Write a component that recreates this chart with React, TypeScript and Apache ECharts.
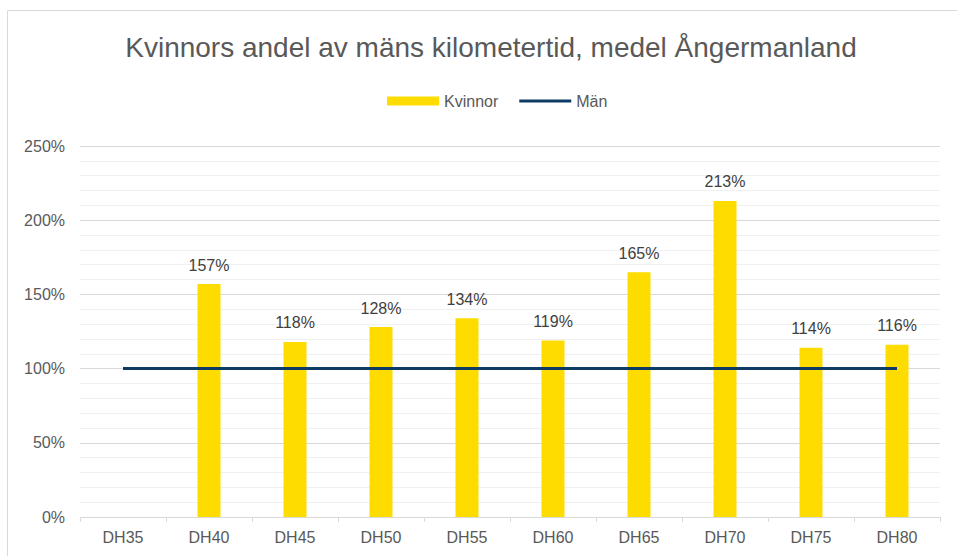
import React, { useEffect, useRef } from "react";
import * as echarts from "echarts";

const categories = ["DH35", "DH40", "DH45", "DH50", "DH55", "DH60", "DH65", "DH70", "DH75", "DH80"];
const kvinnor: (number | null)[] = [null, 157, 118, 128, 134, 119, 165, 213, 114, 116];
const man: number[] = [100, 100, 100, 100, 100, 100, 100, 100, 100, 100];
const yTicks = { min: 0, max: 250, interval: 50 };
const title = "Kvinnors andel av mäns kilometertid, medel Ångermanland";

const FONT = "'Liberation Sans', Arial, sans-serif";
const LINE_COLOR = "#0e3b63";

export default function App() {
  const ref = useRef<HTMLDivElement>(null);
  useEffect(() => {
    if (!ref.current) return;
    const chart = echarts.init(ref.current, undefined, { renderer: "svg" });
    chart.setOption({
      animation: false,
      backgroundColor: "#ffffff",
      textStyle: { fontFamily: FONT },
      graphic: [
        {
          type: "rect",
          shape: { x: 7.5, y: 10.5, width: 1000, height: 700 },
          style: { fill: "none", stroke: "#d9d9d9", lineWidth: 1 },
          silent: true,
          z: -10,
        },
      ],
      title: {
        text: title,
        left: 486,
        textAlign: "center",
        top: 28,
        textStyle: { fontFamily: FONT, fontSize: 28, fontWeight: "normal", color: "#595959" },
      },
      legend: {
        left: 382,
        top: 88,
        itemGap: 21,
        itemWidth: 52,
        itemHeight: 9,
        symbolKeepAspect: true,
        textStyle: { fontFamily: FONT, fontSize: 16, color: "#595959" },
        data: [
          { name: "Kvinnor", icon: "rect" },
          { name: "Män", icon: "path://M0,0 L52,0 L52,3 L0,3 Z", itemStyle: { color: LINE_COLOR } },
        ],
      },
      grid: { left: 80, right: 17, top: 146, bottom: 39, containLabel: false },
      xAxis: {
        type: "category",
        data: categories,
        boundaryGap: true,
        axisLine: { lineStyle: { color: "#d9d9d9", width: 1 } },
        axisTick: { show: true, length: 5, lineStyle: { color: "#d9d9d9" } },
        axisLabel: { fontFamily: FONT, fontSize: 16, color: "#595959", margin: 12 },
      },
      yAxis: {
        type: "value",
        min: yTicks.min,
        max: yTicks.max,
        interval: yTicks.interval,
        axisLine: { show: false },
        axisTick: { show: false },
        axisLabel: { fontFamily: FONT, fontSize: 16, color: "#595959", formatter: "{value}%", margin: 15 },
        splitLine: { show: true, lineStyle: { color: "#d9d9d9", width: 1 } },
        minorTick: { show: false, splitNumber: 5 },
        minorSplitLine: { show: true, lineStyle: { color: "#f0f0f0", width: 1 } },
      },
      series: [
        {
          name: "Kvinnor",
          type: "bar",
          data: kvinnor,
          barWidth: 23,
          itemStyle: { color: "#ffdc00" },
          label: {
            show: true,
            position: "top",
            distance: 11,
            formatter: "{c}%",
            fontFamily: FONT,
            fontSize: 16,
            color: "#404040",
          },
          z: 2,
        },
        {
          name: "Män",
          type: "line",
          data: man,
          symbol: "none",
          lineStyle: { color: LINE_COLOR, width: 3 },
          itemStyle: { color: LINE_COLOR },
          z: 3,
        },
      ],
    });
    return () => chart.dispose();
  }, []);
  return <div ref={ref} style={{ position: "fixed", left: 0, top: 0, width: 957, height: 556 }} />;
}
